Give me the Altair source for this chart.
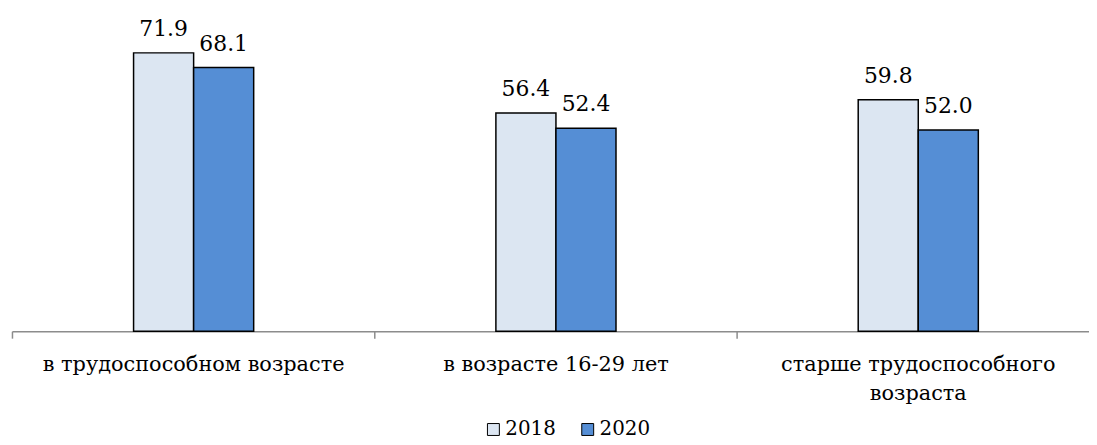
import altair as alt
import pandas as pd

categories = ["в трудоспособном возрасте", "в возрасте 16-29 лет", "старше трудоспособного возраста"]
years = ["2018", "2020"]
values_2018 = [71.9, 56.4, 59.8]
values_2020 = [68.1, 52.4, 52.0]
colors = ["#DCE6F2", "#558ED5"]

rows = []
for c, v1, v2 in zip(categories, values_2018, values_2020):
    rows.append({"cat": c, "year": years[0], "value": v1})
    rows.append({"cat": c, "year": years[1], "value": v2})
df = pd.DataFrame(rows)

FONT = "DejaVu Serif"

x = alt.X("cat:N", sort=categories, title=None,
          scale=alt.Scale(paddingInner=0, paddingOuter=0),
          axis=alt.Axis(labelAngle=0, tickBand="extent", domainColor="#8c8c8c", domainWidth=1.5,
                        tickColor="#8c8c8c", tickWidth=1.5, tickSize=7, labelPadding=16,
                        labelFont=FONT, labelFontSize=21, labelColor="black", labelLimit=0,
                        labelLineHeight=29,
                        labelExpr="datum.value == 'старше трудоспособного возраста' ? ['старше трудоспособного', 'возраста'] : datum.label"))
xo = alt.XOffset("year:N", sort=years, scale=alt.Scale(paddingInner=0, paddingOuter=0, range=[122.5, 243.5]))
y = alt.Y("value:Q", scale=alt.Scale(domain=[0, 80], nice=False, zero=True), axis=None, title=None)

bars = alt.Chart(df).mark_bar(stroke="black", strokeWidth=1.5).encode(
    x=x, xOffset=xo, y=y,
    color=alt.Color("year:N", sort=years,
                    scale=alt.Scale(domain=years, range=colors),
                    legend=alt.Legend(title=None, orient="none", legendX=475, legendY=401,
                                      direction="horizontal", symbolType="square", symbolSize=144,
                                      symbolStrokeColor="black", symbolStrokeWidth=1,
                                      labelFont=FONT, labelFontSize=20, labelColor="black",
                                      labelOffset=2, columnPadding=22, padding=0)),
)

labels = alt.Chart(df).mark_text(font=FONT, fontSize=22, color="black", baseline="alphabetic", dy=-17).encode(
    x=x, xOffset=xo, y=y, text=alt.Text("value:Q", format=".1f"),
)

chart = alt.layer(bars, labels).properties(
    width=1095, height=312,
    autosize=alt.AutoSizeParams(type="none"),
    padding={"left": 4, "top": 12, "right": -10, "bottom": 113},
).configure_view(stroke=None).configure_axis(grid=False)

chart.save("out.html", embed_options={"renderer": "svg", "actions": False})
